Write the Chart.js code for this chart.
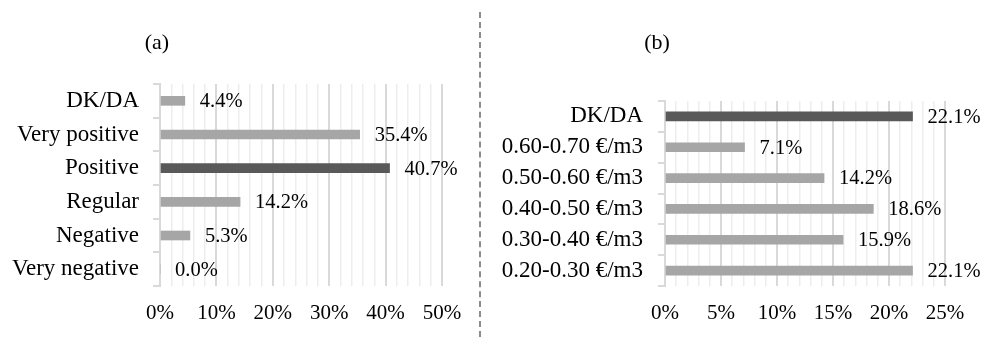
<!DOCTYPE html>
<html>
<head>
<meta charset="utf-8">
<script src="https://cdn.jsdelivr.net/npm/chart.js@4"></script>
<style>
  html, body { margin: 0; padding: 0; background: #fff; }
  #wrap { position: relative; width: 983px; height: 337px; overflow: hidden; }
  .box { position: absolute; top: 0; height: 337px; }
  .ttl { position: absolute; width: 100px; text-align: center; font: 22px "Liberation Serif", "Times New Roman", serif; line-height: 26px; color: #000; }
  #sep { position: absolute; left: 479px; top: 12px; height: 325px; width: 0; border-left: 2px dashed #8c8c8c; }
</style>
</head>
<body>
<div id="wrap">
  <div class="box" style="left:0;width:480px"><canvas id="c1" width="480" height="337"></canvas></div>
  <div class="box" style="left:480px;width:503px"><canvas id="c2" width="503" height="337"></canvas></div>
  <div class="ttl" style="left:107px;top:29px">(a)</div>
  <div class="ttl" style="left:607px;top:29px">(b)</div>
  <div id="sep"></div>
</div>
<script>
// ---- data ----
const catsA = ["DK/DA", "Very positive", "Positive", "Regular", "Negative", "Very negative"];
const valsA = [4.4, 35.4, 40.7, 14.2, 5.3, 0.0];
const highlightA = "Positive";
const ticksA = [0, 10, 20, 30, 40, 50];

const catsB = ["DK/DA", "0.60-0.70 €/m3", "0.50-0.60 €/m3", "0.40-0.50 €/m3", "0.30-0.40 €/m3", "0.20-0.30 €/m3"];
const valsB = [22.1, 7.1, 14.2, 18.6, 15.9, 22.1];
const highlightB = "DK/DA";
const ticksB = [0, 5, 10, 15, 20, 25];

const FAM = "'Liberation Serif', 'Times New Roman', serif";
const CAT_FONT = { family: FAM, size: 23 };
const TICK_FONT = { family: FAM, size: 21 };
const LABEL_SIZE = 20.5;
const LIGHT = "#a6a6a6", DARK = "#595959";

const labelPlugin = {
  id: 'barLabels',
  afterDatasetsDraw(chart) {
    const ctx = chart.ctx;
    const meta = chart.getDatasetMeta(0);
    const data = chart.data.datasets[0].data;
    ctx.save();
    ctx.font = LABEL_SIZE + "px " + FAM;
    ctx.fillStyle = "#000";
    ctx.textAlign = "left";
    ctx.textBaseline = "middle";
    meta.data.forEach((el, i) => {
      ctx.fillText(data[i].toFixed(1) + "%", el.x + 15, el.y + 1);
    });
    ctx.restore();
  }
};

function makeChart(id, cats, vals, hl, ticks, minorStep, area, canvasW) {
  const max = ticks[ticks.length - 1];
  const major = ticks[1] - ticks[0];
  const isMajor = (v) => Math.abs(v / major - Math.round(v / major)) < 1e-6;
  return new Chart(document.getElementById(id), {
    type: 'bar',
    data: {
      labels: cats,
      datasets: [{
        data: vals,
        backgroundColor: cats.map(c => c === hl ? DARK : LIGHT),
        barThickness: 9,
        borderWidth: 0
      }]
    },
    plugins: [labelPlugin],
    options: {
      indexAxis: 'y',
      responsive: false,
      animation: false,
      layout: { padding: { top: area.top, right: canvasW - area.right, bottom: 0, left: 0 } },
      plugins: { legend: { display: false }, tooltip: { enabled: false }, title: { display: false } },
      scales: {
        x: {
          min: 0, max: max,
          ticks: {
            stepSize: minorStep,
            autoSkip: false, maxRotation: 0,
            padding: 15,
            color: "#000",
            font: TICK_FONT,
            callback: (v) => (isMajor(v) ? v + "%" : "")
          },
          grid: {
            drawTicks: false,
            color: (c) => (isMajor(c.tick ? c.tick.value : 0) ? "#d9d9d9" : "#ededed"),
            lineWidth: (c) => (isMajor(c.tick ? c.tick.value : 0) ? 2 : 1.5)
          },
          border: { display: false },
          afterFit(s) { s.height = 337 - area.bottom; s.paddingLeft = 0; s.paddingRight = 0; }
        },
        y: {
          ticks: { color: "#000", font: CAT_FONT, padding: area.labelPad, autoSkip: false },
          grid: { drawOnChartArea: false, drawTicks: true, tickLength: 7, color: "#d9d9d9", lineWidth: 2 },
          border: { display: true, color: "#d9d9d9", width: 2 },
          afterFit(s) { s.width = area.left; s.paddingTop = 0; s.paddingBottom = 0; }
        }
      }
    }
  });
}

makeChart('c1', catsA, valsA, highlightA, ticksA, 2, { left: 160, right: 442, top: 84, bottom: 286, labelPad: 14 }, 480);
makeChart('c2', catsB, valsB, highlightB, ticksB, 1, { left: 185, right: 465, top: 101, bottom: 286, labelPad: 15 }, 503);
</script>
</body>
</html>
